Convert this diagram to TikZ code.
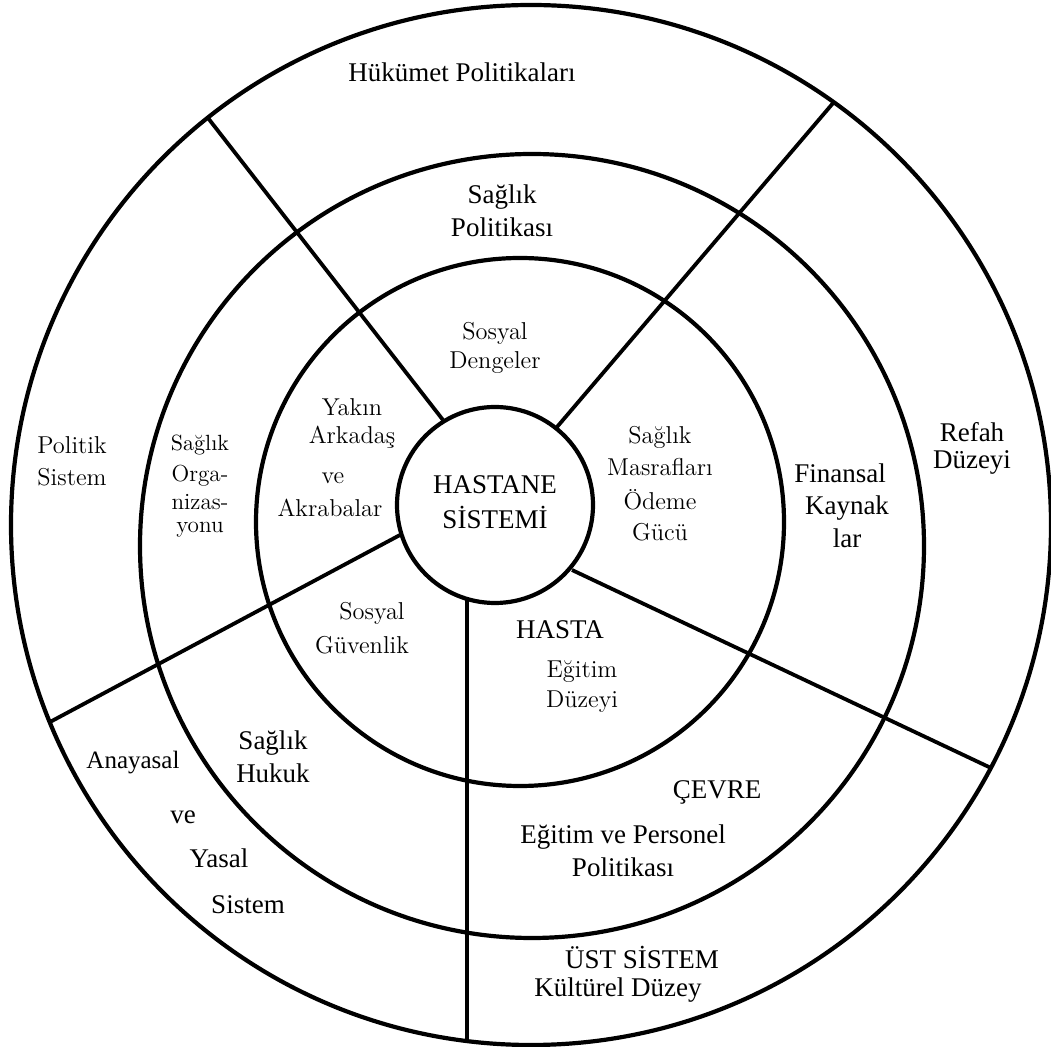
\documentclass[tikz,border=0pt]{standalone}
\usepackage{fontspec}
\setmainfont{Liberation Serif}
\newfontfamily\bookfont{Latin Modern Roman}
\begin{document}
\begin{tikzpicture}[x=0.5pt,y=-0.5pt,
  ring/.style={draw, circle, line width=2.1pt, inner sep=0pt, outer sep=0pt},
  spoke/.style={line width=1.9pt},
  tm/.style={inner sep=0pt, align=center, font=\fontsize{13.5}{15}\selectfont},
  tms/.style={inner sep=0pt, align=center, font=\fontsize{12.5}{14}\selectfont},
  bk/.style={inner sep=0pt, align=center, font=\bookfont\fontsize{12.2}{14}\selectfont},
  bkm/.style={inner sep=0pt, align=center, font=\bookfont\fontsize{11.6}{13}\selectfont},
  bks/.style={inner sep=0pt, align=center, font=\bookfont\fontsize{11}{13}\selectfont}]
\useasboundingbox (0,0) rectangle (1051,1047);

% concentric rings
\node[ring, minimum size=520pt] (outer) at (531,525) {};
\node[ring, minimum size=392pt] (middle) at (532,546) {};
\node[ring, minimum size=264pt] (inner) at (520,522) {};
\node[ring, minimum size=98pt, fill=white] (core) at (495,505) {};

% spoke end points: on the core circle and on the outer ring
\coordinate (a1) at (443,420); \coordinate (b1) at (208,118);
\coordinate (a2) at (557,427); \coordinate (b2) at (834,102);
\coordinate (a3) at (400,535); \coordinate (b3) at (50,722);
\coordinate (a4) at (572,570); \coordinate (b4) at (991,768);
\coordinate (a5) at (467,599); \coordinate (b5) at (467,1041);
\foreach \i in {1,...,5} \draw[spoke] (a\i) -- (b\i);

% centre
\node[tm] (hs1) at (495,485) {HASTANE};
\node[tm] (hs2) at (495,517) {SİSTEMİ};

% outer ring
\node[tm] (t1) at (462,72) {Hükümet Politikaları};
\node[bk] (t2) at (72,445) {Politik};
\node[bk] (t3) at (72,477) {Sistem};
\node[tm] (t4) at (972,432) {Refah};
\node[tm] (t5) at (972,462) {Düzeyi};
\node[tms] (t6) at (133,763) {Anayasal};
\node[tm] (t7) at (183,817) {ve};
\node[tm] (t8) at (219,858) {Yasal};
\node[tm] (t9) at (248,905) {Sistem};
\node[tm] (t10) at (642,957) {ÜST SİSTEM};
\node[tm] (t11) at (618,990) {Kültürel Düzey};

% middle ring
\node[tm] (m1) at (502,197) {Sağlık};
\node[tm] (m2) at (502,227) {Politikası};
\node[bks] (m3) at (200,445) {Sağlık};
\node[bkm] (m4) at (200,476) {Orga-};
\node[bkm] (m5) at (200,502) {nizas-};
\node[bkm] (m6) at (200,530) {yonu};
\node[tm] (m7) at (840,473) {Finansal};
\node[tm] (m8) at (847,508) {Kaynak};
\node[tm] (m9) at (847,538) {lar};
\node[tm] (m10) at (273,743) {Sağlık};
\node[tm] (m11) at (273,773) {Hukuk};
\node[tm] (m12) at (717,792) {ÇEVRE};
\node[tm] (m13) at (623,837) {Eğitim ve Personel};
\node[tm] (m14) at (623,867) {Politikası};

% inner ring
\node[bk] (i1) at (495,333) {Sosyal};
\node[bk] (i2) at (495,363) {Dengeler};
\node[bk] (i3) at (352,407) {Yakın};
\node[bk] (i4) at (352,437) {Arkadaş};
\node[bk] (i5) at (333,478) {ve};
\node[bk] (i6) at (330,508) {Akrabalar};
\node[bk] (i7) at (660,437) {Sağlık};
\node[bk] (i8) at (660,467) {Masrafları};
\node[bk] (i9) at (660,500) {Ödeme};
\node[bk] (i10) at (660,532) {Gücü};
\node[bk] (i11) at (372,613) {Sosyal};
\node[bk] (i12) at (362,645) {Güvenlik};
\node[tm] (i13) at (560,630) {HASTA};
\node[bk] (i14) at (582,672) {Eğitim};
\node[bk] (i15) at (582,702) {Düzeyi};
\end{tikzpicture}
\end{document}
